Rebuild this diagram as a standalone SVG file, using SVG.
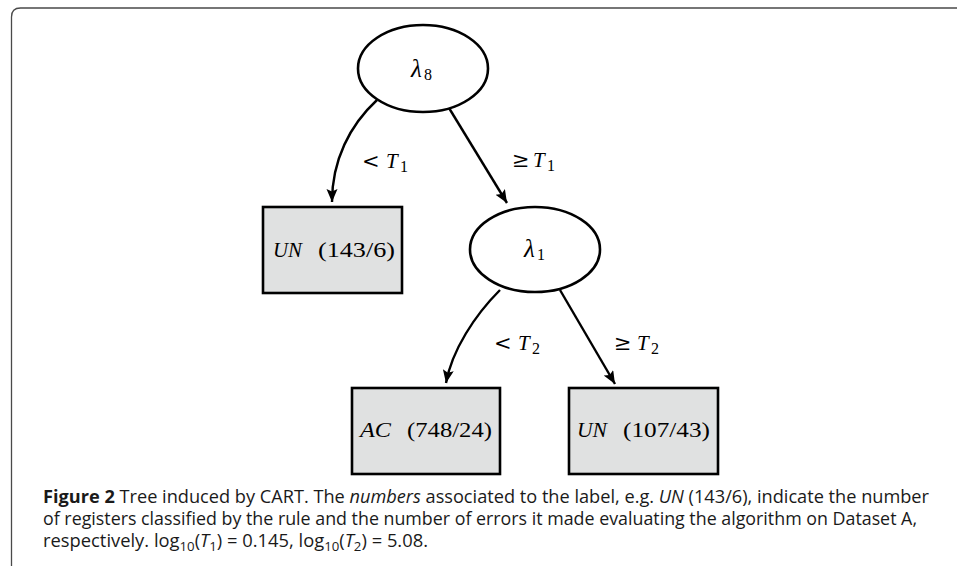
<svg xmlns="http://www.w3.org/2000/svg" width="957" height="566" viewBox="0 0 957 566">
  <style>
    .frame { fill: none; stroke: #4a4a4a; stroke-width: 1.3; }
    .split { fill: #ffffff; stroke: #000000; stroke-width: 2.6; }
    .leaf { fill: #e0e1e1; stroke: #000000; stroke-width: 2.6; }
    .edge { fill: none; stroke: #000000; stroke-width: 2.4; }
    .math { font-family: "Liberation Serif", "DejaVu Serif", serif; font-size: 21px; fill: #000; }
    .it { font-style: italic; }
    .rel { font-family: "DejaVu Serif", "Liberation Serif", serif; font-size: 21px; fill: #000; }
    .lam { font-size: 25px; }
    .sub { font-size: 16px; }
    .cap { font-family: "Open Sans", "Noto Sans", "Liberation Sans", sans-serif; font-size: 18px; fill: #1a1a1a; }
  </style>
  <defs>
    <marker id="arrow" markerUnits="userSpaceOnUse" markerWidth="16" markerHeight="14" refX="13" refY="5.5" orient="auto">
      <path d="M0,0 L13,5.5 L0,11 L2.5,5.5 Z" fill="#000"/>
    </marker>
  </defs>

  <rect width="957" height="566" fill="#ffffff"/>
  <!-- page frame around the figure -->
  <path class="frame" d="M11.5,566 L11.5,17 Q11.5,8 20.5,8 L957,8"/>

  <!-- connectors -->
  <g id="connectors">
    <path class="edge" d="M377,100 C350,125 332,160 332,202" marker-end="url(#arrow)"/>
    <path class="edge" d="M449,108 L507,203" marker-end="url(#arrow)"/>
    <path class="edge" d="M500,290 C475,315 452,350 446,383" marker-end="url(#arrow)"/>
    <path class="edge" d="M560,290 L615,384" marker-end="url(#arrow)"/>
    <g id="edge-labels">
      <text class="rel" x="362" y="168">&lt;</text>
      <text class="math"><tspan x="386" y="168" class="it">T</tspan><tspan x="400" y="172" class="sub">1</tspan></text>
      <text class="rel" x="512" y="167">≥</text>
      <text class="math"><tspan x="533" y="167" class="it">T</tspan><tspan x="547" y="171" class="sub">1</tspan></text>
      <text class="rel" x="494" y="350">&lt;</text>
      <text class="math"><tspan x="518" y="350" class="it">T</tspan><tspan x="532" y="354" class="sub">2</tspan></text>
      <text class="rel" x="614" y="350">≥</text>
      <text class="math"><tspan x="637" y="350" class="it">T</tspan><tspan x="651" y="354" class="sub">2</tspan></text>
    </g>
  </g>

  <!-- split nodes -->
  <g id="node-lambda8">
    <ellipse class="split" cx="423" cy="68.5" rx="65" ry="43.5"/>
    <text class="math"><tspan x="411" y="77" class="it lam">λ</tspan><tspan x="424" y="80" class="sub">8</tspan></text>
  </g>
  <g id="node-lambda1">
    <ellipse class="split" cx="535" cy="249.5" rx="65" ry="42.5"/>
    <text class="math"><tspan x="524" y="257" class="it lam">λ</tspan><tspan x="537" y="260" class="sub">1</tspan></text>
  </g>

  <!-- leaf nodes -->
  <g id="leaf-un-143">
    <rect class="leaf" x="263" y="207" width="139" height="86"/>
    <text class="math it" x="273" y="257" textLength="29" lengthAdjust="spacingAndGlyphs">UN</text>
    <text class="math" x="318" y="257" textLength="77" lengthAdjust="spacingAndGlyphs">(143/6)</text>
  </g>
  <g id="leaf-ac-748">
    <rect class="leaf" x="352" y="388" width="148" height="86"/>
    <text class="math it" x="360" y="437" textLength="31" lengthAdjust="spacingAndGlyphs">AC</text>
    <text class="math" x="407" y="437" textLength="85" lengthAdjust="spacingAndGlyphs">(748/24)</text>
  </g>
  <g id="leaf-un-107">
    <rect class="leaf" x="569" y="388" width="149" height="86"/>
    <text class="math it" x="577" y="437" textLength="30" lengthAdjust="spacingAndGlyphs">UN</text>
    <text class="math" x="623" y="437" textLength="87" lengthAdjust="spacingAndGlyphs">(107/43)</text>
  </g>

  <!-- caption -->
  <g id="caption" class="cap">
    <text x="43" y="503" textLength="886" lengthAdjust="spacingAndGlyphs"><tspan font-weight="bold">Figure 2</tspan>  Tree induced by CART. The <tspan font-style="italic">numbers</tspan> associated to the label, e.g. <tspan font-style="italic">UN</tspan>  (143/6), indicate the number</text>
    <text x="43" y="525" textLength="874" lengthAdjust="spacingAndGlyphs">of registers classified by the rule and the number of errors it made evaluating the algorithm on Dataset A,</text>
    <text x="43" y="547" textLength="385" lengthAdjust="spacingAndGlyphs">respectively. log<tspan font-size="13" dy="4">10</tspan><tspan dy="-4">(</tspan><tspan font-style="italic">T</tspan><tspan font-size="13" dy="4">1</tspan><tspan dy="-4">) = 0.145, log</tspan><tspan font-size="13" dy="4">10</tspan><tspan dy="-4">(</tspan><tspan font-style="italic">T</tspan><tspan font-size="13" dy="4">2</tspan><tspan dy="-4">) = 5.08.</tspan></text>
  </g>
</svg>
